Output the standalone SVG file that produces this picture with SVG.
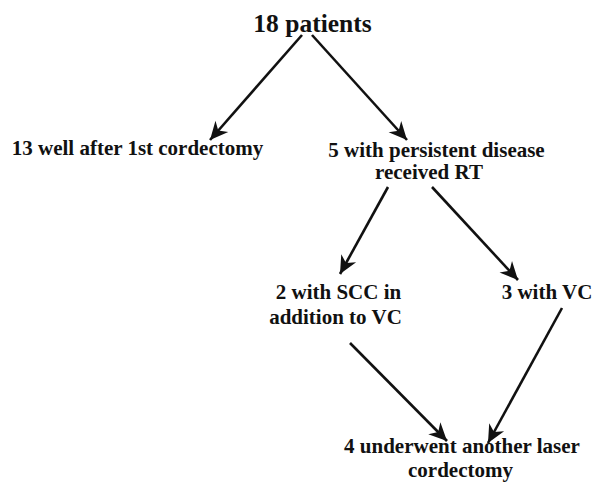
<svg xmlns="http://www.w3.org/2000/svg" width="601" height="484" viewBox="0 0 601 484">
<style>
text{font-family:"Liberation Serif","Times New Roman",serif;font-weight:bold;fill:#111;text-anchor:middle;font-size:21px}
.t{font-size:25.5px}
.c line{stroke:#111;stroke-width:2.6;marker-end:url(#ah)}
</style>
<defs>
<marker id="ah" markerUnits="userSpaceOnUse" viewBox="-20 -10 22 20" refX="0" refY="0" markerWidth="22" markerHeight="20" orient="auto">
<path d="M0,0 L-18,-8.5 L-12.5,0 L-18,8.5 Z" fill="#111"/>
</marker>
</defs>
<rect width="601" height="484" fill="#fff"/>
<g id="n1"><text class="t" x="312.5" y="32">18 patients</text></g>
<g id="n2"><text x="137.5" y="155">13 well after 1st cordectomy</text></g>
<g id="n3"><text x="436.5" y="157">5 with persistent disease</text><text x="429" y="179">received RT</text></g>
<g id="n4"><text x="338.5" y="299">2 with SCC in</text><text x="335.5" y="324">addition to VC</text></g>
<g id="n5"><text x="547" y="299">3 with VC</text></g>
<g id="n6"><text x="462" y="453">4 underwent another laser</text><text x="460.5" y="477">cordectomy</text></g>
<g class="c" id="connectors">
<line x1="302" y1="35" x2="210" y2="140"/>
<line x1="312" y1="35" x2="407" y2="140"/>
<line x1="388" y1="187" x2="340" y2="274"/>
<line x1="432" y1="187" x2="518" y2="280"/>
<line x1="350" y1="343" x2="447" y2="441"/>
<line x1="562" y1="308" x2="488" y2="443"/>
</g>
</svg>
